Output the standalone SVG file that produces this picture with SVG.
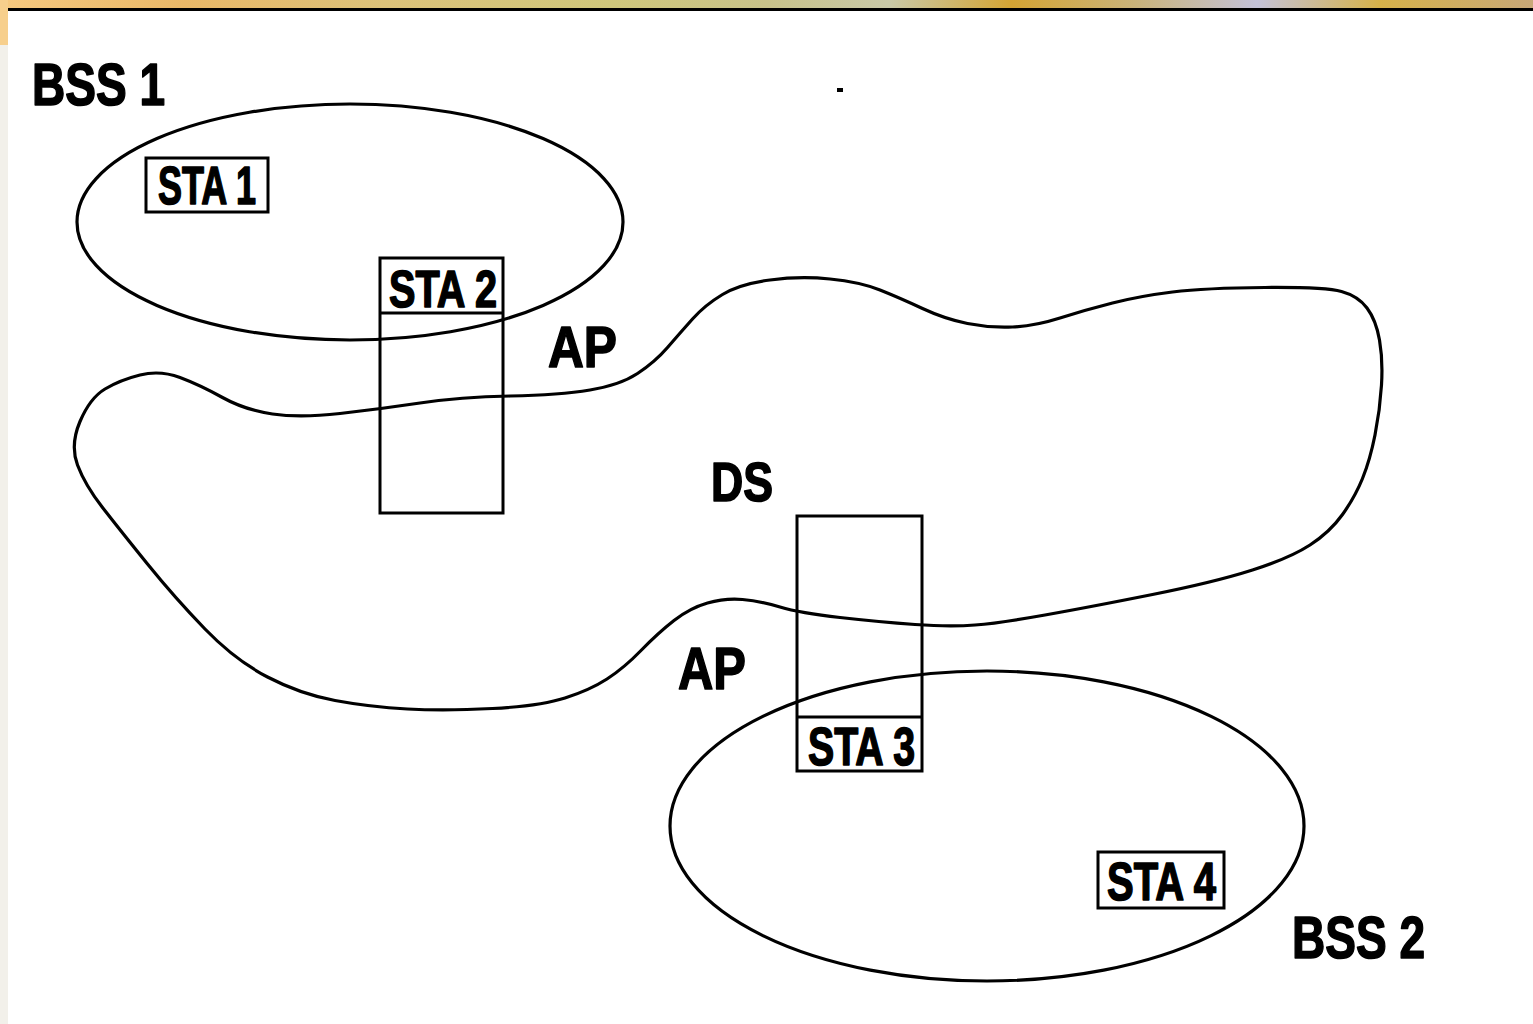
<svg xmlns="http://www.w3.org/2000/svg" width="1533" height="1024" viewBox="0 0 1533 1024">
<defs>
<linearGradient id="band" x1="0" y1="0" x2="1" y2="0">
<stop offset="0" stop-color="#f6c980"/>
<stop offset="0.12" stop-color="#e9b868"/>
<stop offset="0.25" stop-color="#dcc27a"/>
<stop offset="0.4" stop-color="#cfc77c"/>
<stop offset="0.5" stop-color="#c8c28a"/>
<stop offset="0.58" stop-color="#c9c9a8"/>
<stop offset="0.66" stop-color="#d4a434"/>
<stop offset="0.74" stop-color="#c9b37a"/>
<stop offset="0.82" stop-color="#c4c2d8"/>
<stop offset="0.9" stop-color="#d6b24a"/>
<stop offset="1" stop-color="#c8a878"/>
</linearGradient>
</defs>
<style>
.ln{fill:none;stroke:#000;stroke-width:3.2}
.bx{fill:none;stroke:#000;stroke-width:3}
.t{font-family:"Liberation Sans",Arial,sans-serif;font-weight:bold;fill:#000;stroke:#000;stroke-width:1.6;stroke-linejoin:round}
</style>
<rect x="0" y="0" width="1533" height="1024" fill="#ffffff"/>
<rect x="0" y="0" width="1533" height="8" fill="url(#band)"/>
<rect x="0" y="8" width="8" height="1016" fill="#f2f0ea"/>
<rect x="0" y="0" width="8" height="45" fill="#f7cf8c"/>
<rect x="8" y="8" width="1525" height="3" fill="#000"/>
<rect x="837" y="88" width="6" height="4" fill="#000"/>

<g id="ds">
<path class="ln" d="M77.5 465 Q70 445 80 421.5 Q90 398 105 389 Q120 380 140 375 Q160 370 180 377.5 Q200 385 222.5 397.5 Q245 410 272.5 414 Q300 418 340 413.5 Q380 409 420 403 Q460 397 510 396 Q560 395 590 390 Q620 385 637.5 373.5 Q655 362 667.5 347.5 Q680 333 692.5 319 Q705 305 722.5 294.5 Q740 284 770 280 Q800 276 830 279 Q860 282 880 290 Q900 298 922.5 308.5 Q945 319 967.5 323.5 Q990 328 1012.5 327 Q1035 326 1060 318 Q1085 310 1112.5 303 Q1140 296 1172.5 292 Q1205 288 1265 287.5 Q1325 287 1341.5 291.5 Q1358 296 1367 308 Q1376 320 1379.5 340 Q1383 360 1381.5 385 Q1380 410 1375 435 Q1370 460 1362.5 478.5 Q1355 497 1342.5 514.5 Q1330 532 1310 545 Q1290 558 1252.5 570 Q1215 582 1152.5 594.5 Q1090 607 1045 615 Q1000 623 975 625 Q950 627 915 624.5 Q880 622 840 617.5 Q800 613 780 607 Q760 601 742.5 599.5 Q725 598 707.5 603 Q690 608 674 620.5 Q658 633 641 650.5 Q624 668 607 679 Q590 690 565 698 Q540 706 492.5 708.5 Q445 711 407.5 709 Q370 707 335 700.5 Q300 694 267.5 677 Q235 660 205 629 Q175 598 147.5 564 Q120 530 102.5 507.5 Q85 485 77.5 465 Z"/>
<text class="t" x="711" y="501" font-size="55" textLength="62" lengthAdjust="spacingAndGlyphs">DS</text>
</g>

<g id="bss1">
<ellipse class="ln" cx="350" cy="222" rx="273" ry="118"/>
<text class="t" x="32" y="105" font-size="59" textLength="133" lengthAdjust="spacingAndGlyphs">BSS 1</text>
</g>

<g id="bss2">
<ellipse class="ln" cx="987" cy="826" rx="317" ry="155"/>
<text class="t" x="1292" y="958" font-size="60" textLength="133" lengthAdjust="spacingAndGlyphs">BSS 2</text>
</g>

<g id="sta1">
<rect class="bx" x="146" y="158" width="122" height="54"/>
<text class="t" x="158" y="204" font-size="53" textLength="98" lengthAdjust="spacingAndGlyphs">STA 1</text>
</g>

<g id="sta2">
<rect class="bx" x="380" y="258" width="123" height="255"/>
<line class="bx" x1="380" y1="313" x2="503" y2="313"/>
<text class="t" x="389" y="307" font-size="52" textLength="108" lengthAdjust="spacingAndGlyphs">STA 2</text>
</g>

<g id="ap1">
<text class="t" x="548" y="367" font-size="58" textLength="69" lengthAdjust="spacingAndGlyphs">AP</text>
</g>

<g id="sta3">
<rect class="bx" x="797" y="516" width="125" height="255"/>
<line class="bx" x1="797" y1="717" x2="922" y2="717"/>
<text class="t" x="808" y="765" font-size="53" textLength="107" lengthAdjust="spacingAndGlyphs">STA 3</text>
</g>

<g id="ap2">
<text class="t" x="678" y="689" font-size="60" textLength="68" lengthAdjust="spacingAndGlyphs">AP</text>
</g>

<g id="sta4">
<rect class="bx" x="1098" y="852" width="126" height="56"/>
<text class="t" x="1107" y="900" font-size="54" textLength="109" lengthAdjust="spacingAndGlyphs">STA 4</text>
</g>

<g id="connectors"></g>
</svg>
